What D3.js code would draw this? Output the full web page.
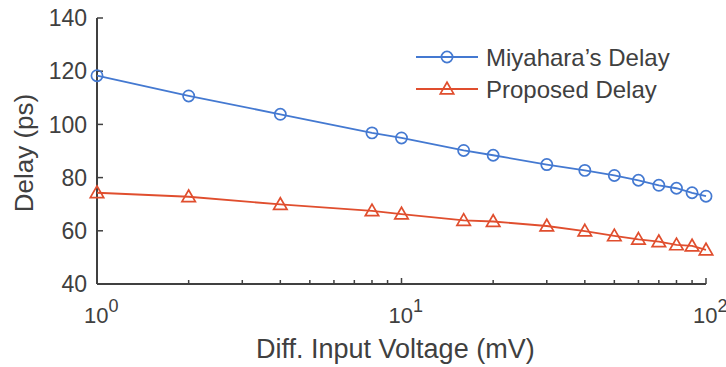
<!DOCTYPE html>
<html>
<head>
<meta charset="utf-8">
<script src="https://cdn.jsdelivr.net/npm/d3@7"></script>
<style>
  html, body { margin: 0; padding: 0; background: #ffffff; }
  #chart { width: 726px; height: 367px; }
  #chart text { font-family: "Liberation Sans", Arial, sans-serif; fill: #404040; }
</style>
</head>
<body>
<div id="chart"></div>
<script>
/* ── data ────────────────────────────────────────────────── */
const voltages = [1, 2, 4, 8, 10, 16, 20, 30, 40, 50, 60, 70, 80, 90, 100];
const miyaharaDelay = [118.3, 110.7, 103.8, 96.8, 94.9, 90.2, 88.4, 84.9, 82.7, 80.8, 79.0, 77.1, 76.0, 74.3, 73.0];
const proposedDelay = [74.3, 72.8, 69.9, 67.5, 66.3, 63.9, 63.5, 61.8, 59.9, 58.1, 56.8, 55.9, 54.7, 54.3, 52.8];
const yTicks = [40, 60, 80, 100, 120, 140];
const xDecades = [1, 10, 100];
const seriesNames = ["Miyahara\u2019s Delay", "Proposed Delay"];

/* ── layout ───────────────────────────────────────────────── */
const W = 726, H = 367;
const margin = { top: 18, right: 20, bottom: 83, left: 97 };
const innerW = 706 - margin.left;
const innerH = 284 - margin.top;

const blue = "#4479d1";
const red  = "#e04e2e";
const axisColor = "#404040";

const svg = d3.select("#chart").append("svg")
  .attr("width", W).attr("height", H);

const g = svg.append("g")
  .attr("transform", `translate(${margin.left},${margin.top})`);

/* ── scales ───────────────────────────────────────────────── */
const x = d3.scaleLog().domain([1, 100]).range([0, innerW]);
const y = d3.scaleLinear().domain([40, 140]).range([innerH, 0]);

/* ── axes (MATLAB style: inward ticks, left + bottom only) ── */
const minorTicks = d3.range(1, 101).filter(v => v < 10 || v % 10 === 0);

const xAxis = g.append("g").attr("transform", `translate(0,${innerH})`);
xAxis.append("line")
  .attr("x1", 0).attr("x2", innerW)
  .attr("stroke", axisColor).attr("stroke-width", 2);
xAxis.selectAll(".xtick")
  .data(minorTicks)
  .enter().append("line")
    .attr("x1", d => x(d)).attr("x2", d => x(d))
    .attr("y1", 0)
    .attr("y2", d => xDecades.includes(d) ? -6 : -4)
    .attr("stroke", axisColor).attr("stroke-width", 1.5);

// "10" centred on the tick, exponent hanging to the right
const xLab = xAxis.selectAll(".xlab")
  .data(xDecades)
  .enter().append("text")
    .attr("x", d => x(d) - 13)
    .attr("y", 39)
    .attr("font-size", 22);
xLab.append("tspan").text("10");
xLab.append("tspan")
  .attr("dy", -11)
  .attr("font-size", 18)
  .text(d => Math.round(Math.log10(d)));

const yAxis = g.append("g");
yAxis.append("line")
  .attr("y1", 0).attr("y2", innerH)
  .attr("stroke", axisColor).attr("stroke-width", 2);
yAxis.selectAll(".ytick")
  .data(yTicks)
  .enter().append("line")
    .attr("x1", 0).attr("x2", 6)
    .attr("y1", d => y(d)).attr("y2", d => y(d))
    .attr("stroke", axisColor).attr("stroke-width", 1.5);
yAxis.selectAll(".ylab")
  .data(yTicks)
  .enter().append("text")
    .attr("x", -10)
    .attr("y", d => y(d))
    .attr("dy", "0.36em")
    .attr("text-anchor", "end")
    .attr("font-size", 23)
    .text(d => d);

/* axis titles */
svg.append("text")
  .attr("x", 256)
  .attr("y", 358)
  .attr("font-size", 27)
  .text("Diff. Input Voltage (mV)");

svg.append("text")
  .attr("transform", `translate(33,${margin.top + innerH / 2 + 2}) rotate(-90)`)
  .attr("text-anchor", "middle")
  .attr("font-size", 26)
  .text("Delay (ps)");

/* ── series ───────────────────────────────────────────────── */
const line = d3.line()
  .x(d => x(d[0]))
  .y(d => y(d[1]));

const triangle = d3.symbol().type(d3.symbolTriangle).size(78);

function drawSeries(values, color, marker) {
  const pts = voltages.map((v, i) => [v, values[i]]);
  g.append("path")
    .datum(pts)
    .attr("fill", "none")
    .attr("stroke", color)
    .attr("stroke-width", 1.8)
    .attr("d", line);
  if (marker === "circle") {
    g.selectAll(null).data(pts).enter().append("circle")
      .attr("cx", d => x(d[0])).attr("cy", d => y(d[1]))
      .attr("r", 5.6)
      .attr("fill", "none").attr("stroke", color).attr("stroke-width", 1.7);
  } else {
    g.selectAll(null).data(pts).enter().append("path")
      .attr("transform", d => `translate(${x(d[0])},${y(d[1]) + 1})`)
      .attr("d", triangle)
      .attr("fill", "none").attr("stroke", color).attr("stroke-width", 1.7);
  }
}

drawSeries(miyaharaDelay, blue, "circle");
drawSeries(proposedDelay, red, "triangle");

/* ── legend ───────────────────────────────────────────────── */
const legend = svg.append("g").attr("transform", "translate(416,57)");
[[blue, "circle"], [red, "triangle"]].forEach(([color, marker], i) => {
  const row = legend.append("g").attr("transform", `translate(0,${i * 32})`);
  row.append("line")
    .attr("x1", 0).attr("x2", 62)
    .attr("stroke", color).attr("stroke-width", 1.8);
  if (marker === "circle") {
    row.append("circle").attr("cx", 31).attr("r", 5.6)
      .attr("fill", "none").attr("stroke", color).attr("stroke-width", 1.7);
  } else {
    row.append("path").attr("transform", "translate(31,1)")
      .attr("d", triangle)
      .attr("fill", "none").attr("stroke", color).attr("stroke-width", 1.7);
  }
  row.append("text")
    .attr("x", 70).attr("dy", "0.36em")
    .attr("font-size", 24)
    .text(seriesNames[i]);
});
</script>
</body>
</html>
